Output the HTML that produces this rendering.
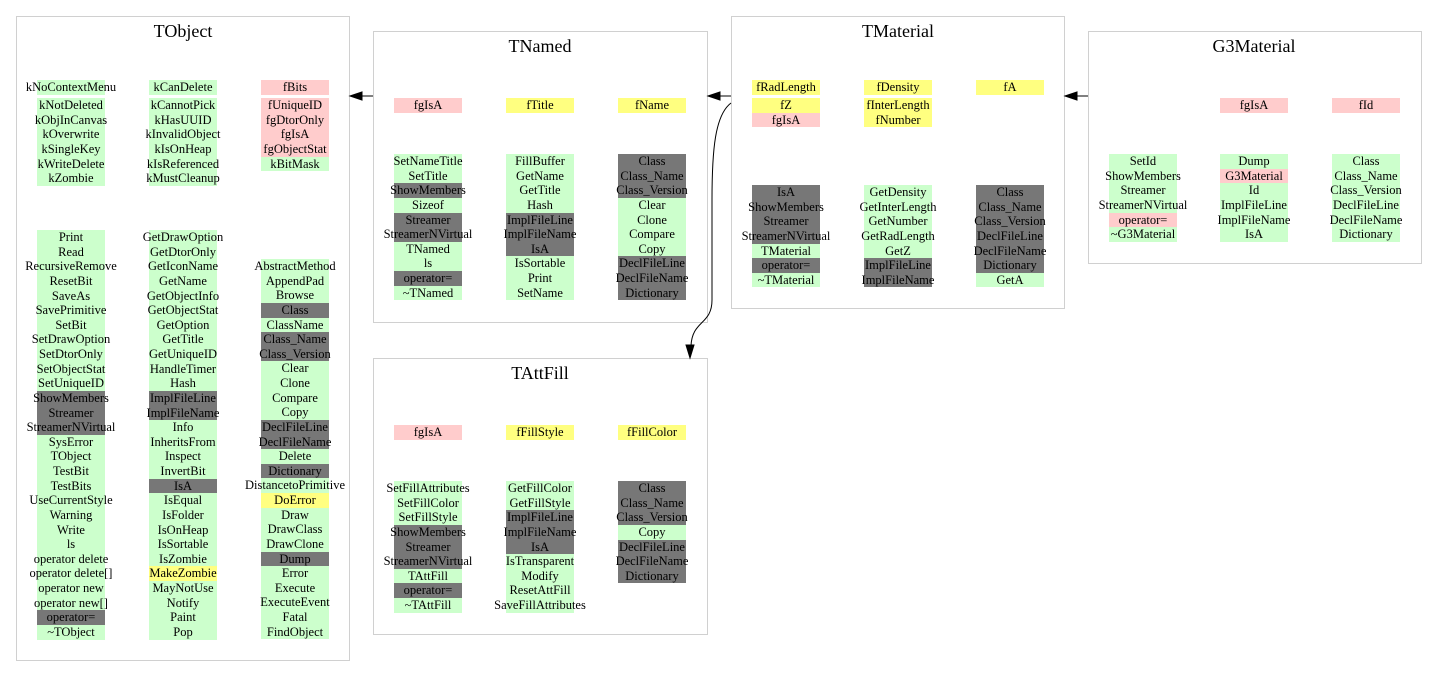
<!DOCTYPE html>
<html><head><meta charset="utf-8"><style>
body{margin:0;width:1437px;height:687px;background:#fff;position:relative;overflow:hidden;font-family:"Liberation Serif",serif;}
.box{position:absolute;border:1px solid #d0d0d0;box-sizing:border-box;}
.t{position:absolute;font-size:18px;transform:translateX(-50%);white-space:nowrap;}
.c{position:absolute;width:68px;}
.c div{height:14.63px;line-height:14.63px;font-size:12.5px;text-align:center;white-space:nowrap;display:flex;justify-content:center;}
.g{background:#ccffcc}.p{background:#ffcccc}.y{background:#ffff80}.d{background:#777}
</style></head><body>
<div class="box" style="left:16px;top:16px;width:334px;height:645px"></div>
<div class="box" style="left:373px;top:31px;width:335px;height:292px"></div>
<div class="box" style="left:731px;top:16px;width:334px;height:293px"></div>
<div class="box" style="left:1088px;top:31px;width:334px;height:233px"></div>
<div class="box" style="left:373px;top:358px;width:335px;height:277px"></div>
<div class="t" style="left:183px;top:21px">TObject</div>
<div class="t" style="left:540px;top:36px">TNamed</div>
<div class="t" style="left:898px;top:21px">TMaterial</div>
<div class="t" style="left:1254px;top:36px">G3Material</div>
<div class="t" style="left:540px;top:363px">TAttFill</div>

<!-- TObject -->
<div class="c" style="left:37px;top:80px"><div class="g">kNoContextMenu</div></div>
<div class="c" style="left:37px;top:98px"><div class="g">kNotDeleted</div><div class="g">kObjInCanvas</div><div class="g">kOverwrite</div><div class="g">kSingleKey</div><div class="g">kWriteDelete</div><div class="g">kZombie</div></div>
<div class="c" style="left:149px;top:80px"><div class="g">kCanDelete</div></div>
<div class="c" style="left:149px;top:98px"><div class="g">kCannotPick</div><div class="g">kHasUUID</div><div class="g">kInvalidObject</div><div class="g">kIsOnHeap</div><div class="g">kIsReferenced</div><div class="g">kMustCleanup</div></div>
<div class="c" style="left:261px;top:80px"><div class="p">fBits</div></div>
<div class="c" style="left:261px;top:98px"><div class="p">fUniqueID</div><div class="p">fgDtorOnly</div><div class="p">fgIsA</div><div class="p">fgObjectStat</div><div class="g">kBitMask</div></div>
<div class="c" style="left:37px;top:230px"><div class="g">Print</div><div class="g">Read</div><div class="g">RecursiveRemove</div><div class="g">ResetBit</div><div class="g">SaveAs</div><div class="g">SavePrimitive</div><div class="g">SetBit</div><div class="g">SetDrawOption</div><div class="g">SetDtorOnly</div><div class="g">SetObjectStat</div><div class="g">SetUniqueID</div><div class="d">ShowMembers</div><div class="d">Streamer</div><div class="d">StreamerNVirtual</div><div class="g">SysError</div><div class="g">TObject</div><div class="g">TestBit</div><div class="g">TestBits</div><div class="g">UseCurrentStyle</div><div class="g">Warning</div><div class="g">Write</div><div class="g">ls</div><div class="g">operator delete</div><div class="g">operator delete[]</div><div class="g">operator new</div><div class="g">operator new[]</div><div class="d">operator=</div><div class="g">~TObject</div></div>
<div class="c" style="left:149px;top:230px"><div class="g">GetDrawOption</div><div class="g">GetDtorOnly</div><div class="g">GetIconName</div><div class="g">GetName</div><div class="g">GetObjectInfo</div><div class="g">GetObjectStat</div><div class="g">GetOption</div><div class="g">GetTitle</div><div class="g">GetUniqueID</div><div class="g">HandleTimer</div><div class="g">Hash</div><div class="d">ImplFileLine</div><div class="d">ImplFileName</div><div class="g">Info</div><div class="g">InheritsFrom</div><div class="g">Inspect</div><div class="g">InvertBit</div><div class="d">IsA</div><div class="g">IsEqual</div><div class="g">IsFolder</div><div class="g">IsOnHeap</div><div class="g">IsSortable</div><div class="g">IsZombie</div><div class="y">MakeZombie</div><div class="g">MayNotUse</div><div class="g">Notify</div><div class="g">Paint</div><div class="g">Pop</div></div>
<div class="c" style="left:261px;top:259px"><div class="g">AbstractMethod</div><div class="g">AppendPad</div><div class="g">Browse</div><div class="d">Class</div><div class="g">ClassName</div><div class="d">Class_Name</div><div class="d">Class_Version</div><div class="g">Clear</div><div class="g">Clone</div><div class="g">Compare</div><div class="g">Copy</div><div class="d">DeclFileLine</div><div class="d">DeclFileName</div><div class="g">Delete</div><div class="d">Dictionary</div><div class="g">DistancetoPrimitive</div><div class="y">DoError</div><div class="g">Draw</div><div class="g">DrawClass</div><div class="g">DrawClone</div><div class="d">Dump</div><div class="g">Error</div><div class="g">Execute</div><div class="g">ExecuteEvent</div><div class="g">Fatal</div><div class="g">FindObject</div></div>

<!-- TNamed -->
<div class="c" style="left:394px;top:98px"><div class="p">fgIsA</div></div>
<div class="c" style="left:506px;top:98px"><div class="y">fTitle</div></div>
<div class="c" style="left:618px;top:98px"><div class="y">fName</div></div>
<div class="c" style="left:394px;top:154px"><div class="g">SetNameTitle</div><div class="g">SetTitle</div><div class="d">ShowMembers</div><div class="g">Sizeof</div><div class="d">Streamer</div><div class="d">StreamerNVirtual</div><div class="g">TNamed</div><div class="g">ls</div><div class="d">operator=</div><div class="g">~TNamed</div></div>
<div class="c" style="left:506px;top:154px"><div class="g">FillBuffer</div><div class="g">GetName</div><div class="g">GetTitle</div><div class="g">Hash</div><div class="d">ImplFileLine</div><div class="d">ImplFileName</div><div class="d">IsA</div><div class="g">IsSortable</div><div class="g">Print</div><div class="g">SetName</div></div>
<div class="c" style="left:618px;top:154px"><div class="d">Class</div><div class="d">Class_Name</div><div class="d">Class_Version</div><div class="g">Clear</div><div class="g">Clone</div><div class="g">Compare</div><div class="g">Copy</div><div class="d">DeclFileLine</div><div class="d">DeclFileName</div><div class="d">Dictionary</div></div>

<!-- TMaterial -->
<div class="c" style="left:752px;top:80px"><div class="y">fRadLength</div></div>
<div class="c" style="left:752px;top:98px"><div class="y">fZ</div><div class="p">fgIsA</div></div>
<div class="c" style="left:864px;top:80px"><div class="y">fDensity</div></div>
<div class="c" style="left:864px;top:98px"><div class="y">fInterLength</div><div class="y">fNumber</div></div>
<div class="c" style="left:976px;top:80px"><div class="y">fA</div></div>
<div class="c" style="left:752px;top:185px"><div class="d">IsA</div><div class="d">ShowMembers</div><div class="d">Streamer</div><div class="d">StreamerNVirtual</div><div class="g">TMaterial</div><div class="d">operator=</div><div class="g">~TMaterial</div></div>
<div class="c" style="left:864px;top:185px"><div class="g">GetDensity</div><div class="g">GetInterLength</div><div class="g">GetNumber</div><div class="g">GetRadLength</div><div class="g">GetZ</div><div class="d">ImplFileLine</div><div class="d">ImplFileName</div></div>
<div class="c" style="left:976px;top:185px"><div class="d">Class</div><div class="d">Class_Name</div><div class="d">Class_Version</div><div class="d">DeclFileLine</div><div class="d">DeclFileName</div><div class="d">Dictionary</div><div class="g">GetA</div></div>

<!-- G3Material -->
<div class="c" style="left:1220px;top:98px"><div class="p">fgIsA</div></div>
<div class="c" style="left:1332px;top:98px"><div class="p">fId</div></div>
<div class="c" style="left:1109px;top:154px"><div class="g">SetId</div><div class="g">ShowMembers</div><div class="g">Streamer</div><div class="g">StreamerNVirtual</div><div class="p">operator=</div><div class="g">~G3Material</div></div>
<div class="c" style="left:1220px;top:154px"><div class="g">Dump</div><div class="p">G3Material</div><div class="g">Id</div><div class="g">ImplFileLine</div><div class="g">ImplFileName</div><div class="g">IsA</div></div>
<div class="c" style="left:1332px;top:154px"><div class="g">Class</div><div class="g">Class_Name</div><div class="g">Class_Version</div><div class="g">DeclFileLine</div><div class="g">DeclFileName</div><div class="g">Dictionary</div></div>

<!-- TAttFill -->
<div class="c" style="left:394px;top:425px"><div class="p">fgIsA</div></div>
<div class="c" style="left:506px;top:425px"><div class="y">fFillStyle</div></div>
<div class="c" style="left:618px;top:425px"><div class="y">fFillColor</div></div>
<div class="c" style="left:394px;top:481px"><div class="g">SetFillAttributes</div><div class="g">SetFillColor</div><div class="g">SetFillStyle</div><div class="d">ShowMembers</div><div class="d">Streamer</div><div class="d">StreamerNVirtual</div><div class="g">TAttFill</div><div class="d">operator=</div><div class="g">~TAttFill</div></div>
<div class="c" style="left:506px;top:481px"><div class="g">GetFillColor</div><div class="g">GetFillStyle</div><div class="d">ImplFileLine</div><div class="d">ImplFileName</div><div class="d">IsA</div><div class="g">IsTransparent</div><div class="g">Modify</div><div class="g">ResetAttFill</div><div class="g">SaveFillAttributes</div></div>
<div class="c" style="left:618px;top:481px"><div class="d">Class</div><div class="d">Class_Name</div><div class="d">Class_Version</div><div class="g">Copy</div><div class="d">DeclFileLine</div><div class="d">DeclFileName</div><div class="d">Dictionary</div></div>

<svg width="1437" height="687" style="position:absolute;left:0;top:0" fill="none" stroke="#000">
<line x1="373" y1="96" x2="360" y2="96"/><polygon points="350,96 362,92 362,100" fill="#000"/>
<line x1="731" y1="96" x2="718" y2="96"/><polygon points="708,96 720,92 720,100" fill="#000"/>
<line x1="1088" y1="96" x2="1075" y2="96"/><polygon points="1065,96 1077,92 1077,100" fill="#000"/>
<path d="M731,103 C715,115 712,150 712,200 L712,300 C712,325 692,320 691,346"/>
<polygon points="690,358 686,345 694,345" fill="#000"/>
</svg>
</body></html>
